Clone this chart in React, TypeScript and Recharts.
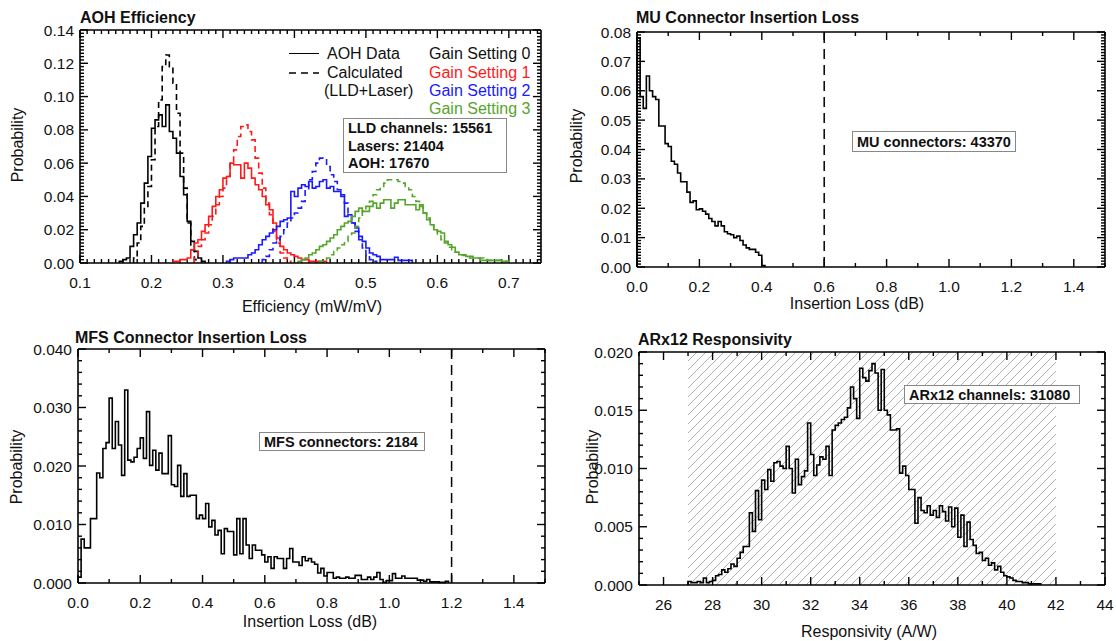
import React from 'react';
import { LineChart, Line, XAxis, YAxis, ReferenceLine, ReferenceArea } from 'recharts';

const FONT = '"Liberation Sans", Arial, Helvetica, sans-serif';
const RED = '#ff1a1a';
const BLUE = '#1a1aff';
const GREEN = '#55a52a';

// ---- AOH efficiency: probability per bin (bin width 0.005), start = left edge of first bin
const aohBin = 0.005;
const gain0AohStart = 0.155;
const gain0Aoh = [0.001, 0.002, 0.003, 0.010, 0.017, 0.024, 0.036, 0.048, 0.064, 0.081, 0.086, 0.089, 0.082, 0.095, 0.079, 0.075, 0.066, 0.052, 0.041, 0.025, 0.013, 0.007, 0.003, 0.001];
const gain0CalcStart = 0.175;
const gain0Calc = [0.003, 0.012, 0.022, 0.034, 0.046, 0.062, 0.082, 0.098, 0.118, 0.125, 0.118, 0.108, 0.090, 0.066, 0.045, 0.024, 0.008, 0.002];
const gain1AohStart = 0.23;
const gain1Aoh = [0.001, 0.001, 0.002, 0.002, 0.003, 0.008, 0.012, 0.014, 0.019, 0.023, 0.028, 0.034, 0.040, 0.044, 0.051, 0.052, 0.060, 0.059, 0.059, 0.051, 0.060, 0.057, 0.051, 0.047, 0.044, 0.040, 0.035, 0.032, 0.024, 0.015, 0.010, 0.008, 0.006, 0.005, 0.004, 0.003, 0.002, 0.002, 0.001, 0.001, 0.001, 0.001, 0.001];
const gain1CalcStart = 0.26;
const gain1Calc = [0.003, 0.010, 0.014, 0.018, 0.023, 0.028, 0.035, 0.040, 0.045, 0.052, 0.061, 0.068, 0.076, 0.082, 0.083, 0.079, 0.074, 0.063, 0.054, 0.045, 0.036, 0.029, 0.019, 0.012, 0.006, 0.003, 0.001];
const gain2AohStart = 0.305;
const gain2Aoh = [0.001, 0.002, 0.003, 0.003, 0.003, 0.003, 0.005, 0.006, 0.008, 0.011, 0.014, 0.016, 0.018, 0.020, 0.022, 0.025, 0.026, 0.027, 0.043, 0.040, 0.045, 0.047, 0.046, 0.049, 0.045, 0.046, 0.049, 0.050, 0.045, 0.046, 0.043, 0.043, 0.040, 0.028, 0.029, 0.024, 0.021, 0.016, 0.013, 0.009, 0.006, 0.005, 0.004, 0.002, 0.002, 0.002, 0.002, 0.0035, 0.0016, 0.0016, 0.0016, 0.0016];
const gain2CalcStart = 0.355;
const gain2Calc = [0.002, 0.004, 0.008, 0.012, 0.014, 0.016, 0.020, 0.024, 0.027, 0.030, 0.033, 0.037, 0.044, 0.050, 0.055, 0.060, 0.063, 0.062, 0.058, 0.053, 0.049, 0.044, 0.041, 0.036, 0.030, 0.024, 0.019, 0.014, 0.009, 0.005, 0.002, 0.001];
const gain3AohStart = 0.405;
const gain3Aoh = [0.001, 0.002, 0.003, 0.005, 0.006, 0.008, 0.010, 0.011, 0.013, 0.015, 0.017, 0.020, 0.022, 0.024, 0.025, 0.028, 0.031, 0.033, 0.031, 0.031, 0.034, 0.036, 0.033, 0.036, 0.038, 0.038, 0.033, 0.036, 0.038, 0.038, 0.035, 0.035, 0.035, 0.032, 0.035, 0.030, 0.026, 0.023, 0.020, 0.019, 0.018, 0.013, 0.011, 0.0095, 0.0065, 0.005, 0.005, 0.004, 0.003, 0.003, 0.003, 0.0016, 0.0016, 0.0016, 0.0016, 0.0016, 0.0016, 0.001, 0.001];
const gain3CalcStart = 0.435;
const gain3Calc = [0.001, 0.002, 0.003, 0.005, 0.007, 0.009, 0.011, 0.013, 0.016, 0.018, 0.022, 0.027, 0.031, 0.034, 0.037, 0.041, 0.044, 0.046, 0.048, 0.050, 0.050, 0.050, 0.049, 0.048, 0.046, 0.044, 0.040, 0.037, 0.034, 0.030, 0.027, 0.023, 0.020, 0.017, 0.014, 0.012, 0.0095, 0.008, 0.0065, 0.005, 0.0045, 0.0045, 0.004, 0.003, 0.003, 0.003, 0.002, 0.0016, 0.0016, 0.0016, 0.0016, 0.0016, 0.001, 0.0005];

// ---- MU connector insertion loss (bin width 0.01 dB, from 0)
const muBin = 0.01;
const muLoss = [0.078, 0.058, 0.054, 0.065, 0.060, 0.058, 0.057, 0.048, 0.048, 0.042, 0.041, 0.036, 0.035, 0.032, 0.029, 0.029, 0.0255, 0.022, 0.0225, 0.0195, 0.0198, 0.019, 0.018, 0.0165, 0.0155, 0.014, 0.0155, 0.014, 0.012, 0.0113, 0.011, 0.010, 0.0105, 0.009, 0.0075, 0.0065, 0.006, 0.006, 0.005, 0.004, 0.0005];

// ---- MFS connector insertion loss (bin width 0.01 dB, from 0)
const mfsBin = 0.01;
const mfsLoss = [
  0.0010, 0.0075, 0.0060, 0.0060, 0.0110, 0.0110, 0.0188, 0.0180, 0.0230, 0.0240,
  0.0316, 0.0230, 0.0276, 0.0236, 0.0184, 0.0330, 0.0210, 0.0207, 0.0215, 0.0230,
  0.0248, 0.0213, 0.0293, 0.0201, 0.0227, 0.0193, 0.0222, 0.0187, 0.0187, 0.0252,
  0.0168, 0.0165, 0.0201, 0.0148, 0.0187, 0.0148, 0.0150, 0.0150, 0.0110, 0.0116,
  0.0110, 0.0136, 0.0096, 0.0107, 0.0082, 0.0090, 0.0050, 0.0093, 0.0088, 0.0088,
  0.0048, 0.0110, 0.0050, 0.0110, 0.0065, 0.0042, 0.0065, 0.0056, 0.0056, 0.0048,
  0.0036, 0.0045, 0.0025, 0.0045, 0.0042, 0.0042, 0.0025, 0.0042, 0.0059, 0.0036,
  0.0036, 0.0030, 0.0045, 0.0038, 0.0042, 0.0036, 0.0032, 0.0017, 0.0025, 0.0012,
  0.0018, 0.0018, 0.0008, 0.0010, 0.0008, 0.0008, 0.0010, 0.0008, 0.0008, 0.0013,
  0.0013, 0.0006, 0.0006, 0.0010, 0.0006, 0.0010, 0.0018, 0.0006, 0.0001, 0.0004,
  0.0004, 0.0016, 0.0008, 0.0008, 0.0012, 0.0008, 0.0008, 0.0008, 0.0008, 0.0005,
  0.0005, 0.0003, 0.0006, 0.0002, 0.0002, 0.0002, 0.0001, 0.0001, 0.0003,
];

// ---- ARx12 responsivity (bin width 0.125 A/W, from 27)
const arxBin = 0.125;
const arxStart = 27;
const arxResp = [
  0.0003, 0.0002, 0.0002, 0.0003, 0.0002, 0.0006, 0.0002, 0.0003, 0.0004, 0.0008,
  0.0009, 0.0013, 0.0011, 0.0014, 0.0018, 0.0016, 0.0023, 0.0028, 0.0033, 0.0033,
  0.0062, 0.0046, 0.0081, 0.0056, 0.0090, 0.0082, 0.0099, 0.0089, 0.0105, 0.0106,
  0.0102, 0.0100, 0.0119, 0.0100, 0.0079, 0.0108, 0.0086, 0.0093, 0.0098, 0.0139,
  0.0112, 0.0094, 0.0103, 0.0110, 0.0108, 0.0119, 0.0094, 0.0133, 0.0137, 0.0139,
  0.0142, 0.0144, 0.0152, 0.0170, 0.0160, 0.0143, 0.0186, 0.0178, 0.0175, 0.0184,
  0.0190, 0.0182, 0.0150, 0.0185, 0.0150, 0.0146, 0.0133, 0.0133, 0.0134, 0.0096,
  0.0102, 0.0094, 0.0082, 0.0082, 0.0053, 0.0075, 0.0064, 0.0062, 0.0068, 0.0060,
  0.0064, 0.0058, 0.0068, 0.0063, 0.0055, 0.0067, 0.0050, 0.0066, 0.0041, 0.0060,
  0.0033, 0.0054, 0.0039, 0.0034, 0.0027, 0.0028, 0.0021, 0.0023, 0.0017, 0.0019,
  0.0013, 0.0016, 0.0011, 0.0008, 0.0007, 0.0006, 0.0004, 0.0003, 0.0003, 0.0002,
  0.0002, 0.0001, 0.0001, 0.0001, 0.0001,
];

// ---- tick labels
const aohXMajor = [0.1, 0.2, 0.3, 0.4, 0.5, 0.6, 0.7];
const aohYMajor = [0, 0.02, 0.04, 0.06, 0.08, 0.1, 0.12, 0.14];
const lossXMajor = [0, 0.2, 0.4, 0.6, 0.8, 1.0, 1.2, 1.4];
const muYMajor = [0, 0.01, 0.02, 0.03, 0.04, 0.05, 0.06, 0.07, 0.08];
const mfsYMajor = [0, 0.01, 0.02, 0.03, 0.04];
const arxXMajor = [26, 28, 30, 32, 34, 36, 38, 40, 42, 44];
const arxYMajor = [0, 0.005, 0.01, 0.015, 0.02];

const muLimit = 0.6;
const mfsLimit = 1.2;
const arxSpec = [27, 42];

type Pt = { x: number; y: number };

function hist(start: number, width: number, values: number[]): Pt[] {
  const pts: Pt[] = [{ x: start, y: 0 }];
  values.forEach((v, i) => pts.push({ x: +(start + i * width).toFixed(5), y: v }));
  pts.push({ x: +(start + values.length * width).toFixed(5), y: 0 });
  return pts;
}

// minor tick positions: every `step` across the domain, majors left out
function minorTicks(a: number, b: number, step: number, majors: number[]) {
  const n = Math.floor((b - a) / step + 1e-6);
  const out: number[] = [];
  for (let i = 0; i <= n; i++) {
    const v = Math.round((a + i * step) * 1e6) / 1e6;
    if (!majors.some((m) => Math.abs(m - v) < 1e-7)) out.push(v);
  }
  return out;
}

function bottomLabel(fmt: (v: number) => string) {
  return (props: any) => (
    <text x={props.x} y={Number(props.y) + 19} textAnchor="middle" dominantBaseline="central" fontSize={15.5} fontFamily={FONT} fill="#111">
      {fmt(props.payload.value)}
    </text>
  );
}

function leftLabel(fmt: (v: number) => string) {
  return (props: any) => (
    <text x={Number(props.x) - 6} y={props.y} textAnchor="end" dominantBaseline="central" fontSize={15.5} fontFamily={FONT} fill="#111">
      {fmt(props.payload.value)}
    </text>
  );
}

type Series = { data: Pt[]; color: string; dashed?: boolean };

type PanelProps = {
  box: [number, number, number, number];
  plot: [number, number, number, number];
  xDomain: [number, number];
  yDomain: [number, number];
  xMajor: number[];
  xMinorStep: number;
  yMajor: number[];
  yMinorStep: number;
  xFmt: (v: number) => string;
  yFmt: (v: number) => string;
  series: Series[];
  vline?: number;
  hatch?: number[];
};

function Panel(p: PanelProps) {
  const { box, plot, xDomain, yDomain } = p;
  const margin = {
    left: plot[0] - box[0] - 1,
    top: plot[1] - box[1] - 1,
    right: box[0] + box[2] - plot[2] - 1,
    bottom: box[1] + box[3] - plot[3] - 1,
  };
  const xMinor = minorTicks(xDomain[0], xDomain[1], p.xMinorStep, p.xMajor);
  const yMinor = minorTicks(yDomain[0], yDomain[1], p.yMinorStep, p.yMajor);
  const frame = { stroke: '#000', strokeWidth: 1.6 };
  // inward tick marks, length in pixels turned into data units of the other axis
  const perPxX = (xDomain[1] - xDomain[0]) / (plot[2] - plot[0]);
  const perPxY = (yDomain[1] - yDomain[0]) / (plot[3] - plot[1]);
  const marks: { seg: [Pt, Pt]; key: string }[] = [];
  const addX = (v: number, len: number) => {
    marks.push({ key: `xb${v}`, seg: [{ x: v, y: yDomain[0] }, { x: v, y: yDomain[0] + len * perPxY }] });
    marks.push({ key: `xt${v}`, seg: [{ x: v, y: yDomain[1] }, { x: v, y: yDomain[1] - len * perPxY }] });
  };
  const addY = (v: number, len: number) => {
    marks.push({ key: `yl${v}`, seg: [{ x: xDomain[0], y: v }, { x: xDomain[0] + len * perPxX, y: v }] });
    marks.push({ key: `yr${v}`, seg: [{ x: xDomain[1], y: v }, { x: xDomain[1] - len * perPxX, y: v }] });
  };
  p.xMajor.forEach((v) => addX(v, 8));
  xMinor.forEach((v) => addX(v, 4));
  p.yMajor.forEach((v) => addY(v, 8));
  yMinor.forEach((v) => addY(v, 4));

  return (
    <div style={{ position: 'absolute', left: box[0], top: box[1] }}>
      <LineChart width={box[2]} height={box[3]} margin={margin}>
        {p.hatch && (
          <defs>
            <pattern id="arxHatch" patternUnits="userSpaceOnUse" width={9} height={9}>
              <path d="M0,9 L9,0 M-2,2 L2,-2 M7,11 L11,7" stroke="#a8a8a8" strokeWidth={0.9} />
            </pattern>
          </defs>
        )}
        <XAxis xAxisId="b" type="number" dataKey="x" domain={xDomain} ticks={p.xMajor} interval={0} height={1} tickLine={false} tickSize={0} tickMargin={0} axisLine={frame} tick={bottomLabel(p.xFmt)} />
        <XAxis xAxisId="t" orientation="top" type="number" dataKey="x" domain={xDomain} ticks={p.xMajor} interval={0} height={1} tickLine={false} axisLine={frame} tick={false} />
        <YAxis yAxisId="l" type="number" domain={yDomain} ticks={p.yMajor} interval={0} width={1} tickLine={false} tickSize={0} tickMargin={0} axisLine={frame} tick={leftLabel(p.yFmt)} />
        <YAxis yAxisId="r" orientation="right" type="number" domain={yDomain} ticks={p.yMajor} interval={0} width={1} tickLine={false} axisLine={frame} tick={false} />
        {p.hatch && (
          <ReferenceArea xAxisId="b" yAxisId="l" x1={p.hatch[0]} x2={p.hatch[1]} y1={yDomain[0]} y2={yDomain[1]} fill="url(#arxHatch)" fillOpacity={1} stroke="none" />
        )}
        {marks.map((m) => (
          <ReferenceLine key={m.key} xAxisId="b" yAxisId="l" segment={m.seg} stroke="#000" strokeWidth={1.4} ifOverflow="visible" />
        ))}
        {p.vline !== undefined && (
          <ReferenceLine xAxisId="b" yAxisId="l" x={p.vline} stroke="#000" strokeWidth={1.5} strokeDasharray="10 6" />
        )}
        {p.series.map((s, i) => (
          <Line
            key={i}
            xAxisId="b"
            yAxisId="l"
            data={s.data}
            dataKey="y"
            type="stepAfter"
            stroke={s.color}
            strokeWidth={1.6}
            strokeDasharray={s.dashed ? '6 4' : undefined}
            dot={false}
            activeDot={false}
            isAnimationActive={false}
          />
        ))}
      </LineChart>
    </div>
  );
}

function Txt(props: { x: number; y: number; children: React.ReactNode; size?: number; bold?: boolean; color?: string; anchor?: 'start' | 'middle'; rotate?: boolean }) {
  const { x, y, size = 16, bold, color = '#111', anchor = 'start', rotate } = props;
  const tx = anchor === 'middle' ? '-50%' : '0';
  return (
    <div
      style={{
        position: 'absolute',
        left: x,
        top: y,
        fontSize: size,
        fontWeight: bold ? 'bold' : 'normal',
        fontFamily: FONT,
        color,
        lineHeight: 1,
        whiteSpace: 'nowrap',
        transform: `translate(${tx}, -50%)${rotate ? ' rotate(-90deg)' : ''}`,
      }}
    >
      {props.children}
    </div>
  );
}

function Box(props: { x: number; y: number; w: number; h: number }) {
  return <div style={{ position: 'absolute', left: props.x, top: props.y, width: props.w, height: props.h, boxSizing: 'border-box', border: '1.2px solid #888', background: '#fff' }} />;
}

export default function App() {
  const f1 = (v: number) => v.toFixed(1);
  const f2 = (v: number) => v.toFixed(2);
  const f3 = (v: number) => v.toFixed(3);
  const f0 = (v: number) => v.toFixed(0);

  const aohSeries: Series[] = [
    { data: hist(gain0AohStart, aohBin, gain0Aoh), color: '#000' },
    { data: hist(gain0CalcStart, aohBin, gain0Calc), color: '#000', dashed: true },
    { data: hist(gain1AohStart, aohBin, gain1Aoh), color: RED },
    { data: hist(gain1CalcStart, aohBin, gain1Calc), color: RED, dashed: true },
    { data: hist(gain2AohStart, aohBin, gain2Aoh), color: BLUE },
    { data: hist(gain2CalcStart, aohBin, gain2Calc), color: BLUE, dashed: true },
    { data: hist(gain3AohStart, aohBin, gain3Aoh), color: GREEN },
    { data: hist(gain3CalcStart, aohBin, gain3Calc), color: GREEN, dashed: true },
  ];

  return (
    <div style={{ position: 'absolute', left: 0, top: 0, width: 1116, height: 641, background: '#fff' }}>
      <Panel
        box={[0, 0, 558, 320]}
        plot={[80, 30, 541, 263]}
        xDomain={[0.1, 0.745]}
        yDomain={[0, 0.14]}
        xMajor={aohXMajor}
        xMinorStep={0.01}
        yMajor={aohYMajor}
        yMinorStep={0.002}
        xFmt={f1}
        yFmt={f2}
        series={aohSeries}
      />
      <Panel
        box={[558, 0, 558, 320]}
        plot={[637, 32, 1105, 267]}
        xDomain={[0, 1.5]}
        yDomain={[0, 0.08]}
        xMajor={lossXMajor}
        xMinorStep={0.1}
        yMajor={muYMajor}
        yMinorStep={0.001}
        xFmt={f1}
        yFmt={f2}
        series={[{ data: hist(0, muBin, muLoss), color: '#000' }]}
        vline={muLimit}
      />
      <Panel
        box={[0, 320, 558, 321]}
        plot={[78, 349, 545, 583]}
        xDomain={[0, 1.5]}
        yDomain={[0, 0.04]}
        xMajor={lossXMajor}
        xMinorStep={0.1}
        yMajor={mfsYMajor}
        yMinorStep={0.002}
        xFmt={f1}
        yFmt={f3}
        series={[{ data: hist(0, mfsBin, mfsLoss), color: '#000' }]}
        vline={mfsLimit}
      />
      <Panel
        box={[558, 320, 558, 321]}
        plot={[639, 352, 1105, 585]}
        xDomain={[25, 44]}
        yDomain={[0, 0.02]}
        xMajor={arxXMajor}
        xMinorStep={1}
        yMajor={arxYMajor}
        yMinorStep={0.001}
        xFmt={f0}
        yFmt={f3}
        series={[{ data: hist(arxStart, arxBin, arxResp), color: '#000' }]}
        hatch={arxSpec}
      />

      {/* panel 1 texts and legend */}
      <Txt x={80} y={18} bold>AOH Efficiency</Txt>
      <Txt x={18} y={145} rotate anchor="middle">Probability</Txt>
      <Txt x={312} y={307} anchor="middle">Efficiency (mW/mV)</Txt>
      <div style={{ position: 'absolute', left: 289, top: 53, width: 30, borderTop: '1.5px solid #000' }} />
      <svg width={30} height={4} style={{ position: 'absolute', left: 289, top: 71 }}>
        <line x1={0} x2={30} y1={2} y2={2} stroke="#000" strokeWidth={1.5} strokeDasharray="7 5" />
      </svg>
      <Txt x={327} y={54}>AOH Data</Txt>
      <Txt x={327} y={73}>Calculated</Txt>
      <Txt x={324} y={91}>(LLD+Laser)</Txt>
      <Txt x={429} y={54}>Gain Setting 0</Txt>
      <Txt x={429} y={73} color={RED}>Gain Setting 1</Txt>
      <Txt x={429} y={91} color={BLUE}>Gain Setting 2</Txt>
      <Txt x={429} y={109} color={GREEN}>Gain Setting 3</Txt>
      <Box x={343} y={118} w={164} h={55} />
      <Txt x={348} y={128} size={14.5} bold>LLD channels: 15561</Txt>
      <Txt x={348} y={146} size={14.5} bold>Lasers: 21404</Txt>
      <Txt x={348} y={163} size={14.5} bold>AOH: 17670</Txt>

      {/* panel 2 */}
      <Txt x={636} y={18} bold>MU Connector Insertion Loss</Txt>
      <Txt x={577} y={146} rotate anchor="middle">Probability</Txt>
      <Txt x={857} y={304} anchor="middle">Insertion Loss (dB)</Txt>
      <Box x={852} y={131} w={164} h={21} />
      <Txt x={857} y={142} size={14.5} bold>MU connectors: 43370</Txt>

      {/* panel 3 */}
      <Txt x={75} y={338} bold>MFS Connector Insertion Loss</Txt>
      <Txt x={17} y={467} rotate anchor="middle">Probability</Txt>
      <Txt x={310} y={622} anchor="middle">Insertion Loss (dB)</Txt>
      <Box x={259} y={432} w={166} h={19} />
      <Txt x={264} y={442} size={14.5} bold>MFS connectors: 2184</Txt>

      {/* panel 4 */}
      <Txt x={638} y={340} bold>ARx12 Responsivity</Txt>
      <Txt x={593} y={467} rotate anchor="middle">Probability</Txt>
      <Txt x={869} y={632} anchor="middle">Responsivity (A/W)</Txt>
      <Box x={904} y={385} w={176} h={19} />
      <Txt x={909} y={395} size={14.5} bold>ARx12 channels: 31080</Txt>
    </div>
  );
}
